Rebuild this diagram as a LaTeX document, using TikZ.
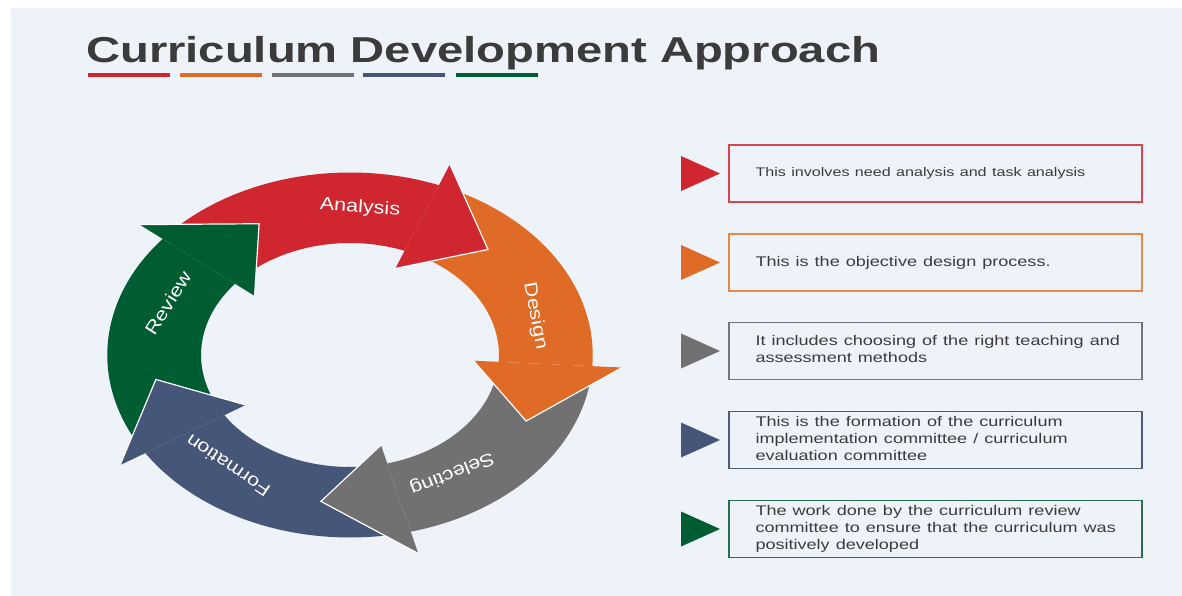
\documentclass[tikz,border=0pt]{standalone}
\usepackage{fontspec}
\setmainfont{Liberation Sans}
\usepackage{graphicx}
\definecolor{bg}{HTML}{EEF2F9}
\definecolor{cred}{HTML}{D0262F}
\definecolor{corange}{HTML}{E06B26}
\definecolor{cgray}{HTML}{717171}
\definecolor{cblue}{HTML}{465679}
\definecolor{cgreen}{HTML}{005C31}
\definecolor{titlegray}{HTML}{3B3B3B}
\definecolor{txt}{HTML}{3C3C3C}
\definecolor{bred}{HTML}{D9444E}
\definecolor{borange}{HTML}{E58A4A}
\definecolor{bgray}{HTML}{6F7585}
\definecolor{bblue}{HTML}{4D5D80}
\definecolor{bgreen}{HTML}{2A6E4C}
\newcommand\ringbody[3]{%
  \fill[#1] (#2:182.5) arc[start angle=#2, end angle=#3, radius=182.5]
     -- (#3:112) arc[start angle=#3, end angle=#2, radius=112] -- cycle;}
\newcommand\ringhead[2]{%
  \fill[#1] (#2:205) -- ({#2-23}:148) -- (#2:93) -- cycle;
  \draw[white, line width=1.2pt, line join=miter] (#2:205) -- ({#2-23}:148) -- (#2:93);}
\begin{document}
\begin{tikzpicture}[x=1pt,y=-1pt,
  ringlabel/.style={text=white, font=\fontsize{18}{20}\selectfont, inner sep=0pt},
  infobox/.style={draw=#1, line width=1.3pt, minimum width=413pt, minimum height=57pt,
     text width=360pt, inner xsep=26.5pt, inner ysep=0pt, align=left, text=txt,
     font=\fontsize{14}{17}\selectfont},
  bar/.style={fill=#1, minimum width=82pt, minimum height=3.5pt, inner sep=0pt},
  ]
\useasboundingbox (0,0) rectangle (1182,596);
\fill[white] (0,0) rectangle (1182,596);
\fill[bg] (11,8) rectangle (1182,596);

% title
\node[anchor=base west, inner sep=0pt, text=titlegray, font=\fontsize{36}{40}\selectfont\bfseries]
  (title) at (86,63) {\scalebox{1.31}[1]{Curriculum Development Approach}};
\node[bar=cred] (u1) at (128.5,75) {};
\node[bar=corange] (u2) at (220.5,75) {};
\node[bar=cgray] (u3) at (312.5,75) {};
\node[bar=cblue] (u4) at (404,75) {};
\node[bar=cgreen] (u5) at (497,75) {};

% ring
\begin{scope}[shift={(350,355)}, x=1.33pt, y=1pt]
  \ringbody{cred}{135.5}{68.5}
  \ringbody{corange}{63.5}{-3.5}
  \ringbody{cgray}{-8.5}{-75.5}
  \ringbody{cblue}{-80.5}{-147.5}
  \ringbody{cgreen}{207.5}{140.5}
  \ringhead{cred}{68.5}
  \ringhead{corange}{-3.5}
  \ringhead{cgray}{-75.5}
  \ringhead{cblue}{212.5}
  \ringhead{cgreen}{140.5}
\end{scope}

% ring labels
\node[ringlabel, rotate=-4] (lA) at (360,208) {\scalebox{1.2}[1]{Analysis}};
\node[ringlabel, rotate=-79] (lD) at (535,316) {\scalebox{1.2}[1]{Design}};
\node[ringlabel, rotate=202] (lS) at (452,473) {\scalebox{1.2}[1]{Selecting}};
\node[ringlabel, rotate=146] (lF) at (228,466) {\scalebox{1.2}[1]{Formation}};
\node[ringlabel, rotate=58] (lR) at (168,303) {\scalebox{1.2}[1]{Review}};

% pointers
\fill[cred] (681,156) -- (720,173.5) -- (681,191) -- cycle;
\fill[corange] (681,245) -- (720,262.5) -- (681,280) -- cycle;
\fill[cgray] (681,333.5) -- (720,351) -- (681,368.5) -- cycle;
\fill[cblue] (681,422.5) -- (720,440) -- (681,457.5) -- cycle;
\fill[cgreen] (681,511.5) -- (720,529) -- (681,546.5) -- cycle;

% boxes
\node[infobox=bred, font=\fontsize{12.5}{15}\selectfont] (b1) at (935.5,173.5)
  {\scalebox{1.29}[1]{This involves need analysis and task analysis}};
\node[infobox=borange] (b2) at (935.5,262.5)
  {\scalebox{1.29}[1]{This is the objective design process.}};
\node[infobox=bgray] (b3) at (935.5,351)
  {\scalebox{1.29}[1]{\begin{tabular}{@{}l@{}}It includes choosing of the right teaching and\\assessment methods\end{tabular}}};
\node[infobox=bblue] (b4) at (935.5,440)
  {\scalebox{1.29}[1]{\begin{tabular}{@{}l@{}}This is the formation of the curriculum\\implementation committee / curriculum\\evaluation committee\end{tabular}}};
\node[infobox=bgreen] (b5) at (935.5,529)
  {\scalebox{1.29}[1]{\begin{tabular}{@{}l@{}}The work done by the curriculum review\\committee to ensure that the curriculum was\\positively developed\end{tabular}}};
\end{tikzpicture}
\end{document}
